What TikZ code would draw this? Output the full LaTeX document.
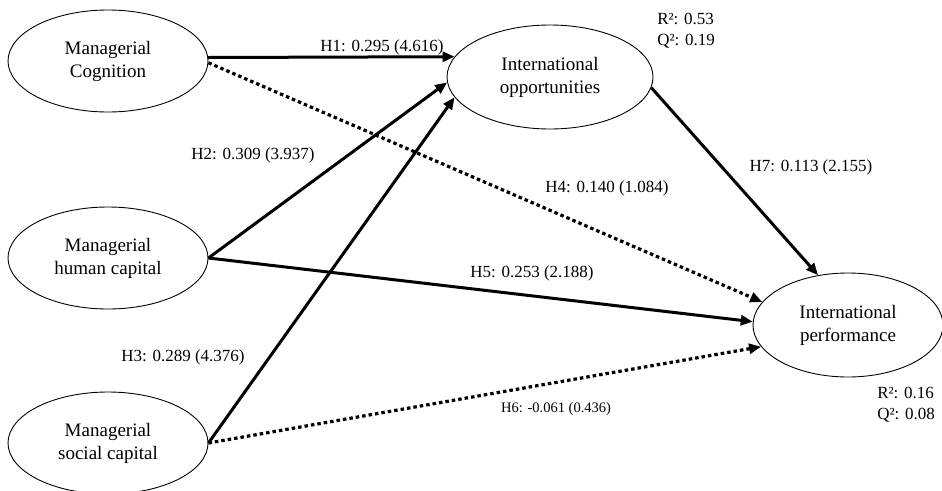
\documentclass[tikz,border=0pt]{standalone}
\usepackage{fontspec}
\setmainfont{Liberation Serif}
\usetikzlibrary{shapes.geometric,arrows.meta}
\begin{document}
\begin{tikzpicture}[x=1pt,y=-1pt,
  construct/.style={draw,ellipse,line width=0.9pt,inner sep=0pt,
    minimum width=200pt,minimum height=102pt,align=center,
    font=\fontsize{19}{23}\selectfont},
  pathlabel/.style={font=\fontsize{17}{20}\selectfont,inner sep=0pt},
  smalllabel/.style={font=\fontsize{14.5}{17}\selectfont,inner sep=0pt},
  fitlabel/.style={font=\fontsize{17}{21}\selectfont,inner sep=0pt,align=left},
  sig/.style={line width=3pt,-{Triangle[length=12pt,width=10pt]}},
  nonsig/.style={line width=3.2pt,dash pattern=on 3.5pt off 3pt,
    -{Triangle[length=12pt,width=10pt]}}]
\useasboundingbox (0,0) rectangle (942,490);

% constructs
\node[construct] (mc)  at (108,61)  {Managerial\\Cognition};
\node[construct] (mhc) at (108,258) {Managerial\\human capital};
\node[construct] (msc) at (108,443) {Managerial\\social capital};
\node[construct,minimum width=206pt,minimum height=104pt] (io) at (550,77) {International\\opportunities};
\node[construct,minimum width=190pt,minimum height=104pt] (ip) at (848,325) {International\\performance};

% structural paths
\draw[sig]    (mc.2)    -- (io.168);
\draw[nonsig] (mc.-1)   -- (ip.165.7);
\draw[sig]    (mhc.east) -- (io.183);
\draw[sig]    (msc.east) -- (io.192);
\draw[sig]    (mhc.east) -- (ip.178);
\draw[nonsig] (msc.east) -- (ip.194.3);
\draw[sig]    (io.354)  -- (ip.121);

% path coefficients
\node[pathlabel]  (l1) at (382,47)  {H1: 0.295 (4.616)};
\node[pathlabel]  (l2) at (253,155) {H2: 0.309 (3.937)};
\node[pathlabel]  (l3) at (183,357) {H3: 0.289 (4.376)};
\node[pathlabel]  (l4) at (607,188) {H4: 0.140 (1.084)};
\node[pathlabel]  (l5) at (532,273) {H5: 0.253 (2.188)};
\node[smalllabel] (l6) at (556,409) {H6: -0.061 (0.436)};
\node[pathlabel]  (l7) at (811,167) {H7: 0.113 (2.155)};

% explained variance and predictive relevance
\node[fitlabel] (fio) at (686,31)  {R²: 0.53\\Q²: 0.19};
\node[fitlabel] (fip) at (906,405) {R²: 0.16\\Q²: 0.08};
\end{tikzpicture}
\end{document}
